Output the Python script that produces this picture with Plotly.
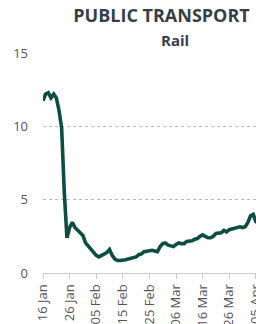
import pandas as pd
import plotly.graph_objects as go

start_date = "2020-01-16"
rail_values = [
    11.75, 12.2, 12.3, 11.95, 12.2, 11.95, 11.1, 9.9, 5.5, 2.4,
    3.1, 3.45, 3.1, 2.9, 2.75, 2.55, 2.05, 1.85, 1.65, 1.45,
    1.2, 1.1, 1.2, 1.25, 1.4, 1.6, 1.2, 0.95, 0.85, 0.85,
    0.85, 0.9, 0.95, 1.0, 1.05, 1.1, 1.25, 1.3, 1.45, 1.5,
    1.55, 1.55, 1.5, 1.45, 1.8, 2.0, 2.05, 1.9, 1.85, 1.8,
    1.95, 2.05, 2.0, 2.0, 2.15, 2.15, 2.2, 2.3, 2.35, 2.5,
    2.6, 2.5, 2.4, 2.4, 2.5, 2.7, 2.75, 2.75, 2.9, 2.8,
    2.95, 3.0, 3.1, 3.15, 3.15, 3.1, 3.15, 3.45, 3.9, 4.0,
    3.5, 3.4,
]
dates = pd.date_range(start_date, periods=len(rail_values), freq="D")
tick_dates = pd.date_range(start_date, periods=9, freq="10D")
tick_labels = [d.strftime("%d %b") for d in tick_dates]
y_ticks = [0, 5, 10, 15]

W, H = 256, 324
ml, mr, mt, mb = 43, 0, 53, 51
pw, ph = W - ml - mr, H - mt - mb

fig = go.Figure()
fig.add_trace(go.Scatter(
    x=dates, y=rail_values, mode="lines",
    line=dict(color="#0c4e44", width=3.6),
    hoverinfo="skip",
))

fig.update_layout(
    width=W, height=H,
    margin=dict(l=ml, r=mr, t=mt, b=mb, pad=0),
    paper_bgcolor="white", plot_bgcolor="white",
    showlegend=False,
    font=dict(family="Open Sans", color="#555555"),
    title=dict(
        text="<b>PUBLIC TRANSPORT</b>",
        x=161.5 / W, xanchor="center", xref="container",
        y=1 - 16 / H, yanchor="middle", yref="container",
        font=dict(family="Open Sans", size=18, color="#343f48"),
    ),
    annotations=[dict(
        text="<b>Rail</b>",
        xref="paper", yref="paper",
        x=(175 - ml) / pw, y=1 + (mt - 40) / ph,
        xanchor="center", yanchor="middle", showarrow=False,
        font=dict(family="Open Sans", size=15, color="#343f48"),
    )],
)

fig.update_xaxes(
    range=[pd.Timestamp("2020-01-16"), pd.Timestamp("2020-04-05 01:00")],
    tickmode="array", tickvals=tick_dates, ticktext=tick_labels,
    tickangle=-90, tickfont=dict(size=13, color="#555555"),
    ticks="outside", ticklen=5, tickcolor="#cccccc",
    ticklabeloverflow="allow",
    showline=True, linecolor="#cccccc", linewidth=1,
    showgrid=False, zeroline=False, automargin=False,
)
fig.update_yaxes(
    range=[0, 15], tickvals=y_ticks,
    tickfont=dict(size=13, color="#555555"),
    ticks="", ticklabelstandoff=14,
    showgrid=True, gridcolor="#bbbbbb", griddash="dot", gridwidth=1,
    zeroline=False, showline=False, automargin=False,
)

fig.write_html(
    "out.html",
    config={"displayModeBar": False, "staticPlot": True},
    post_script="document.body.style.margin='0';document.body.style.overflow='hidden';",
)
